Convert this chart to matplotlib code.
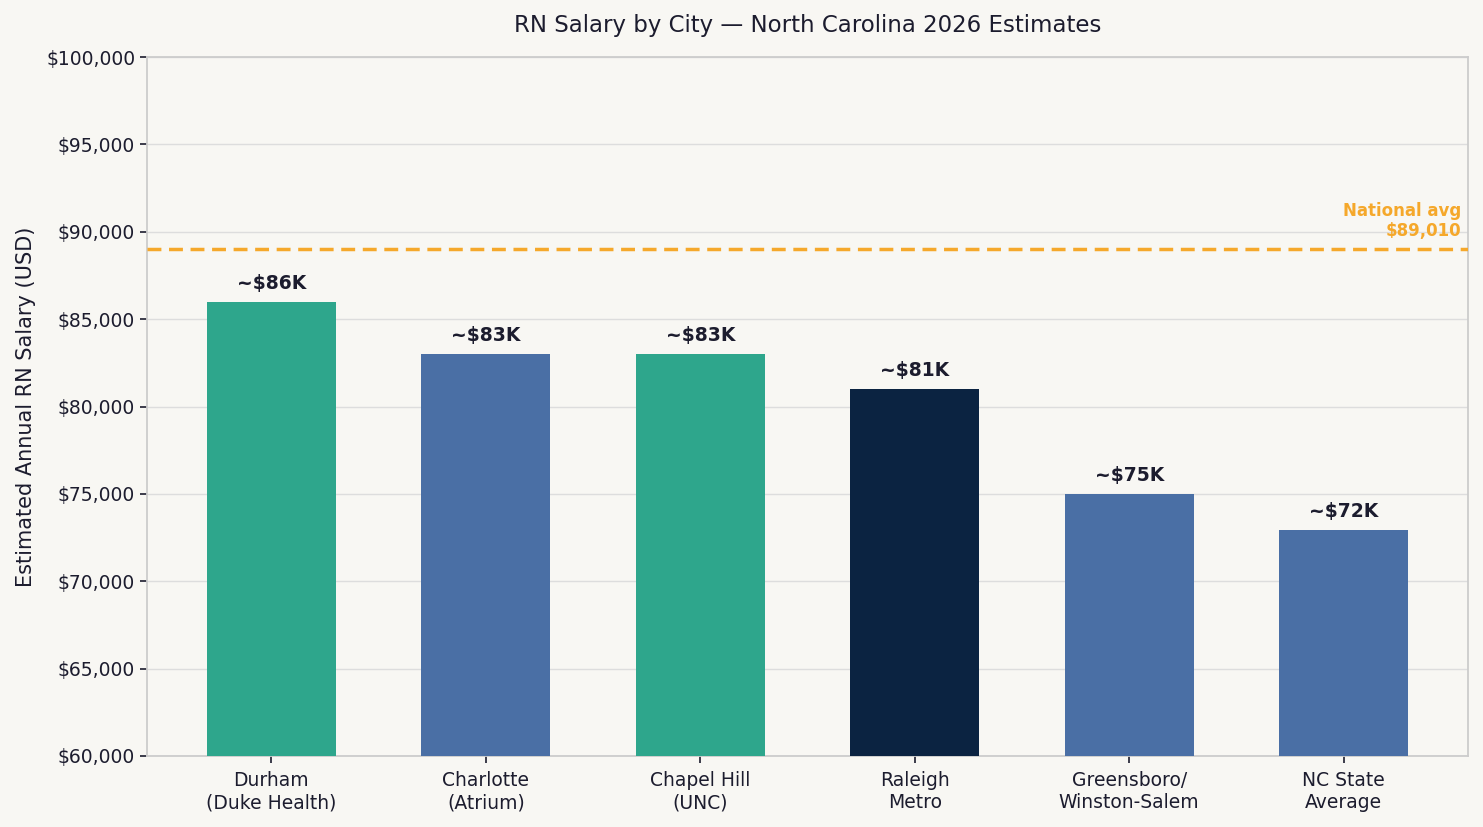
import matplotlib
matplotlib.use("Agg")
import matplotlib.pyplot as plt
from matplotlib.ticker import FuncFormatter

cities = ["Durham\n(Duke Health)", "Charlotte\n(Atrium)", "Chapel Hill\n(UNC)",
          "Raleigh\nMetro", "Greensboro/\nWinston-Salem", "NC State\nAverage"]
salaries = [86000, 83000, 83000, 81000, 75000, 72950]
bar_labels = ["~$86K", "~$83K", "~$83K", "~$81K", "~$75K", "~$72K"]
national_avg = 89010

GREEN = "#2ea68c"
BLUE = "#4a6fa5"
NAVY = "#0b2341"
ORANGE = "#f5a82b"
TEXT = "#1c1c2e"
BG = "#f8f7f3"
colors = [GREEN, BLUE, GREEN, NAVY, BLUE, BLUE]

fig = plt.figure(figsize=(14.83, 8.27), dpi=100, facecolor=BG)
ax = fig.add_axes([147 / 1483, 1 - 756 / 827, 1321 / 1483, 699 / 827])
ax.set_facecolor(BG)

x = range(len(cities))
ax.bar(x, salaries, width=0.6, color=colors, zorder=3)
for xi, v, lab in zip(x, salaries, bar_labels):
    ax.text(xi, v + 500, lab, ha="center", va="bottom", fontsize=13.5,
            fontweight="bold", color=TEXT, zorder=4)

ax.axhline(national_avg, color=ORANGE, lw=2.5, ls=(0, (4, 2.2)), zorder=4)
ax.text(5.55, national_avg + 500, "National avg\n$89,010", ha="right", va="bottom",
        fontsize=12, fontweight="bold", color=ORANGE, zorder=4, linespacing=1.2)

ax.set_ylim(60000, 100000)
ax.set_yticks(range(60000, 100001, 5000))
ax.yaxis.set_major_formatter(FuncFormatter(lambda v, p: f"${v:,.0f}"))
ax.set_xticks(list(x))
ax.set_xticklabels(cities)
ax.tick_params(axis="both", labelsize=13.5, colors=TEXT, length=5, width=1.2)
ax.tick_params(axis="x", pad=6)
ax.grid(axis="y", color="#dddddd", lw=1, zorder=0)
for s in ax.spines.values():
    s.set_color("#cccccc")
    s.set_linewidth(1.3)

ax.set_ylabel("Estimated Annual RN Salary (USD)", fontsize=15, color=TEXT, labelpad=7)
ax.set_title("RN Salary by City \u2014 North Carolina 2026 Estimates", fontsize=16.5,
             color=TEXT, pad=18)

fig.savefig("out.png", dpi=100, facecolor=BG)
